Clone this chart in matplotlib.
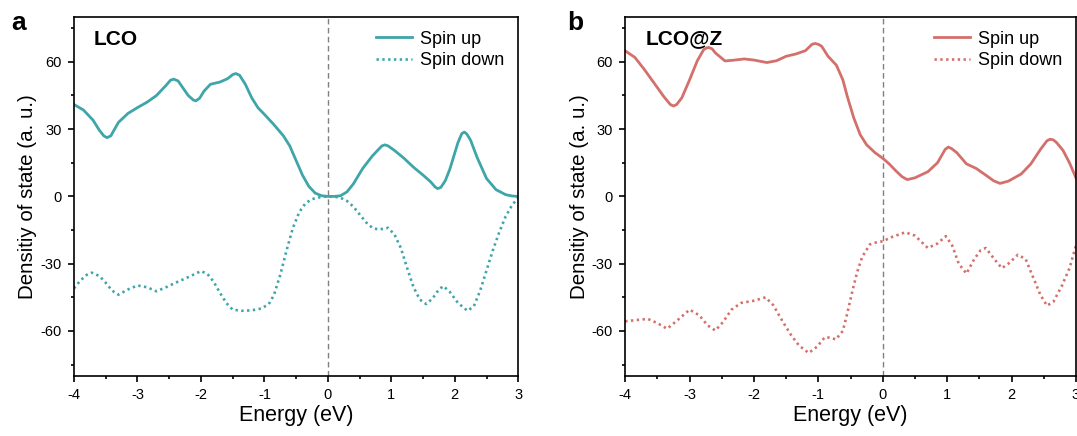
import numpy as np
import matplotlib
matplotlib.use("Agg")
import matplotlib.pyplot as plt
from matplotlib.ticker import MultipleLocator

plt.rcParams["font.family"] = ["Liberation Sans", "DejaVu Sans"]
plt.rcParams["axes.unicode_minus"] = False

# LCO, spin up
lco_up_x = [-4.0, -3.85, -3.7, -3.6, -3.53, -3.48, -3.42, -3.3, -3.15, -3.0, -2.85, -2.7, -2.55,
            -2.48, -2.43, -2.36, -2.2, -2.12, -2.08, -2.02, -1.95, -1.85, -1.7, -1.58, -1.5,
            -1.45, -1.39, -1.3, -1.2, -1.1, -1.0,
            -0.85, -0.7, -0.6, -0.5, -0.4, -0.3, -0.2, -0.1, 0.0, 0.1, 0.2, 0.3, 0.4, 0.55,
            0.7, 0.85, 0.9, 0.95, 1.05, 1.2, 1.35, 1.5, 1.62, 1.69, 1.73, 1.78, 1.85, 1.92,
            2.05, 2.11, 2.15, 2.19, 2.25, 2.35, 2.5, 2.65, 2.8, 2.9, 3.0]
lco_up_y = [41, 38.5, 34, 29.5, 27, 26.2, 27, 33, 37, 39.6, 42, 45, 49.5,
            51.8, 52.3, 51.5, 45, 43, 42.6, 43.8, 47, 50, 51, 52.5, 54.3,
            54.8, 54, 50, 44, 39.5, 36.6,
            32, 27, 22.5, 16, 9.5, 4.5, 1.5, 0.3, 0, 0, 0.3, 2, 5.5, 12.5,
            18, 22.5, 23, 22.5, 20.5, 17, 13, 9.5, 6.5, 4.2, 3.5, 4, 7, 12,
            24, 28, 28.7, 27.8, 25, 17.5, 8, 3, 0.8, 0.2, 0]

# LCO, spin down
lco_dn_x = [-4.0, -3.9, -3.8, -3.72, -3.6, -3.5, -3.4, -3.3, -3.15, -3.0, -2.85, -2.7,
            -2.55, -2.4, -2.2, -2.0, -1.9, -1.8, -1.7, -1.6, -1.5, -1.35, -1.2, -1.05,
            -0.93, -0.85, -0.75, -0.65, -0.55, -0.45, -0.35, -0.25, -0.1, 0.0, 0.1, 0.2,
            0.3, 0.4, 0.5, 0.6, 0.7, 0.8, 0.95, 1.05, 1.15, 1.25, 1.35, 1.45, 1.55, 1.65,
            1.75, 1.82, 1.92, 2.05, 2.2, 2.3, 2.4, 2.5, 2.6, 2.7, 2.8, 2.9, 3.0]
lco_dn_y = [-41, -37.5, -35, -34, -35.5, -38.5, -42, -43.8, -41.5, -39.7, -40.5, -42.3,
            -40.5, -38.5, -36, -33.3, -34.5, -38, -43, -47.5, -50.5, -51, -50.8, -50,
            -48, -44, -35, -24, -14, -7, -3, -1.2, -0.2, 0, -0.1, -0.6,
            -2, -4.5, -8, -11.5, -14, -14.8, -14, -17, -23, -32, -40.5, -46, -48, -45.5,
            -41.5, -40, -42.5, -47.5, -51, -49, -42, -33, -24, -16, -9, -4, -0.5]

# LCO@Z, spin up
lcoz_up_x = [-4.0, -3.85, -3.7, -3.55, -3.4, -3.3, -3.25, -3.2, -3.12, -3.0, -2.88, -2.78,
             -2.73, -2.7, -2.65, -2.6,
             -2.45, -2.3, -2.15, -2.0, -1.8, -1.65, -1.5, -1.35, -1.2, -1.1, -1.05, -1.0,
             -0.95, -0.85, -0.72, -0.62, -0.55, -0.45, -0.35, -0.25, -0.12, 0.0, 0.1, 0.2,
             0.3, 0.38, 0.5, 0.7, 0.85, 0.97, 1.02, 1.07, 1.15, 1.3, 1.45, 1.6, 1.72, 1.82,
             1.95, 2.15, 2.3, 2.45, 2.55, 2.6, 2.65, 2.7, 2.8, 2.9, 3.0]
lcoz_up_y = [64.9, 62, 56.5, 50.5, 44.5, 41, 40.3, 41, 44, 52, 60.5, 65.5,
             66.3, 66.4, 65.8, 64,
             60.4, 60.8, 61.3, 60.8, 59.7, 60.5, 62.5, 63.5, 65, 67.8, 68.2, 67.8,
             67, 62.5, 58.5, 52, 44.5, 35, 27.5, 23, 19.5, 17, 14.5, 11.5,
             8.8, 7.5, 8.3, 11, 15, 21, 22, 21.3, 19.5, 14.5, 12.5, 9.5, 7, 5.8,
             6.8, 10, 14.5, 21, 24.8, 25.5, 25.2, 24, 20.5, 15, 8.3]

# LCO@Z, spin down
lcoz_dn_x = [-4.0, -3.85, -3.65, -3.5, -3.35, -3.2, -3.0, -2.85, -2.72, -2.6, -2.48, -2.35,
             -2.2, -2.0, -1.82, -1.7, -1.55, -1.42, -1.3, -1.15, -1.02, -0.9, -0.8, -0.73,
             -0.62, -0.55, -0.47, -0.4, -0.32, -0.2, -0.1, 0.0, 0.15, 0.35, 0.5, 0.7,
             0.85, 0.98, 1.08, 1.18, 1.3, 1.42, 1.52, 1.6, 1.72, 1.85, 1.95, 2.1, 2.22,
             2.32, 2.45, 2.55, 2.65, 2.78, 2.9, 3.0]
lcoz_dn_y = [-55.7, -55.2, -54.6, -56.5, -59, -55.5, -50.5, -53, -57.5, -59.8, -56, -50.5,
             -47.5, -46.5, -45, -48.5, -56, -62, -66.5, -69.8, -67, -62.8, -63, -63.8,
             -60, -52, -42, -34, -27, -21.4, -20.5, -20, -18, -16, -17.5, -23,
             -21, -17.7, -22, -30, -34.4, -28, -24, -23, -27.5, -32, -30, -26, -28,
             -35, -44, -48.7, -47, -40, -32, -22]

teal = "#3ea5a8"
red = "#d4706b"

fig = plt.figure(figsize=(10.77, 4.36), dpi=100)
ax1 = fig.add_axes([0.0687, 0.138, 0.4125, 0.823])
ax2 = fig.add_axes([0.5805, 0.138, 0.4185, 0.823])

panels = [
    (ax1, "a", "LCO", teal, lco_up_x, lco_up_y, lco_dn_x, lco_dn_y),
    (ax2, "b", "LCO@Z", red, lcoz_up_x, lcoz_up_y, lcoz_dn_x, lcoz_dn_y),
]

for ax, letter, name, col, ux, uy, dx, dy in panels:
    ax.plot(ux, uy, color=col, lw=2.0, label="Spin up")
    ax.plot(dx, dy, color=col, lw=1.9, linestyle=(0, (0.9, 1.3)), label="Spin down")
    ax.axvline(0, color="#808080", lw=1.0, linestyle=(0, (4, 2.5)), zorder=0)
    ax.set_xlim(-4, 3)
    ax.set_ylim(-80, 80)
    ax.xaxis.set_major_locator(MultipleLocator(1))
    ax.xaxis.set_minor_locator(MultipleLocator(0.5))
    ax.yaxis.set_major_locator(MultipleLocator(30))
    ax.yaxis.set_minor_locator(MultipleLocator(15))
    ax.set_yticks([-60, -30, 0, 30, 60])
    ax.tick_params(which="major", direction="out", length=4.5, width=1.2, labelsize=10.5,
                   top=False, right=False, pad=4.5)
    ax.tick_params(which="minor", direction="out", length=2.5, width=1.2,
                   top=False, right=False)
    for s in ax.spines.values():
        s.set_linewidth(1.2)
    ax.set_xlabel("Energy (eV)", fontsize=15.5, labelpad=2)
    ax.set_ylabel("Densitiy of state (a. u.)", fontsize=14.8, labelpad=2)
    ax.text(0.045, 0.965, name, transform=ax.transAxes, fontsize=15, fontweight="bold",
            ha="left", va="top")
    ax.legend(loc="upper right", frameon=False, fontsize=13, handlelength=2.0,
              handletextpad=0.45, labelspacing=0.25, borderaxespad=0.35)

fig.text(0.010, 0.975, "a", fontsize=19, fontweight="bold", va="top")
fig.text(0.527, 0.975, "b", fontsize=19, fontweight="bold", va="top")

fig.savefig("out.png", dpi=100)
